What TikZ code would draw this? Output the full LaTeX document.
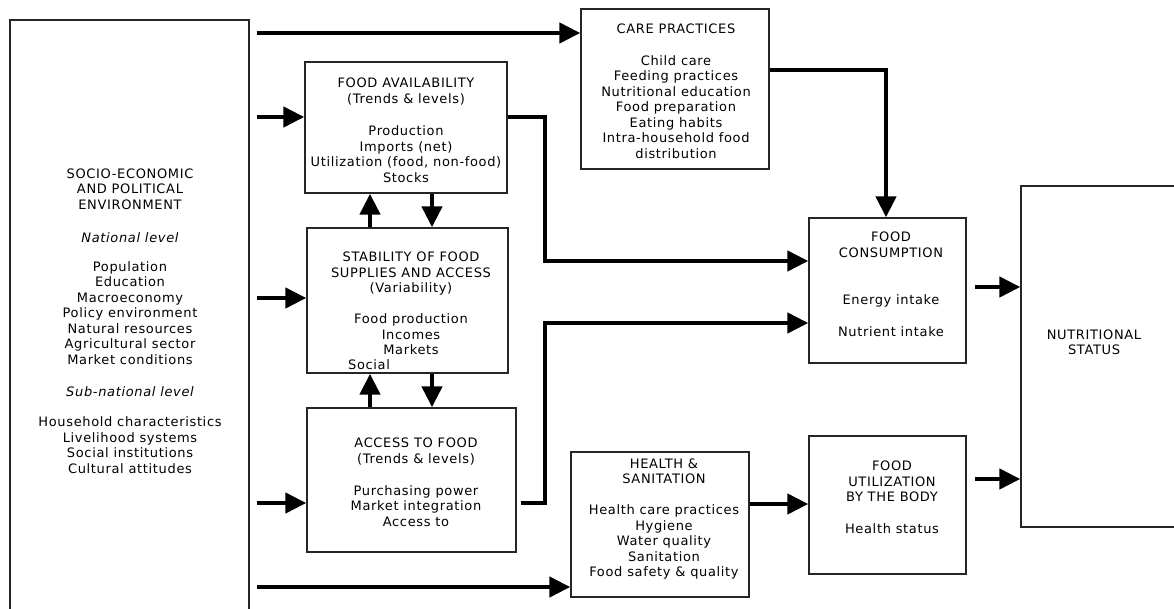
\documentclass[tikz,border=0pt]{standalone}
\usepackage{fontspec}
\setmainfont{DejaVu Sans}[LetterSpace=5]
\usetikzlibrary{arrows.meta,fit}
\tikzset{
  box/.style={draw=black!85, line width=1.4pt, inner sep=0pt, fill=none},
  txt/.style={anchor=north, align=center, inner sep=0pt, font=\fontsize{13}{15.5}\selectfont},
  arr/.style={line width=4.5pt, -{Triangle[length=21pt,width=20pt]}},
}
\begin{document}
\begin{tikzpicture}[x=1pt,y=-1pt]
\useasboundingbox (0,0) rectangle (1174,609);
\clip (0,0) rectangle (1174,609);
\fill[white] (0,0) rectangle (1174,609);
% boxes
\coordinate (envA) at (10,20);   \coordinate (envB) at (249,700);
\coordinate (faA) at (305,62);   \coordinate (faB) at (507,193);
\coordinate (stA) at (307,228);  \coordinate (stB) at (508,373);
\coordinate (acA) at (307,408);  \coordinate (acB) at (516,552);
\coordinate (caA) at (581,9);    \coordinate (caB) at (769,169);
\coordinate (heA) at (571,452);  \coordinate (heB) at (749,597);
\coordinate (fcA) at (809,218);  \coordinate (fcB) at (966,363);
\coordinate (fuA) at (809,436);  \coordinate (fuB) at (966,574);
\coordinate (nuA) at (1021,186); \coordinate (nuB) at (1260,527);
\node[box, fit=(envA)(envB)] (env) {};
\node[box, fit=(faA)(faB)] (fa) {};
\node[box, fit=(stA)(stB)] (stab) {};
\node[box, fit=(acA)(acB)] (acc) {};
\node[box, fit=(caA)(caB)] (care) {};
\node[box, fit=(heA)(heB)] (health) {};
\node[box, fit=(fcA)(fcB)] (fc) {};
\node[box, fit=(fuA)(fuB)] (fu) {};
\node[box, fit=(nuA)(nuB)] (nut) {};
% texts
\node[txt] (envt) at (130,168.5) {SOCIO-ECONOMIC\\AND POLITICAL\\ENVIRONMENT\\[17.5pt]
  {\itshape National level}\\[13.5pt]
  Population\\Education\\Macroeconomy\\Policy environment\\Natural resources\\Agricultural sector\\Market conditions\\[17pt]
  {\itshape Sub-national level}\\[14.5pt]
  Household characteristics\\Livelihood systems\\Social institutions\\Cultural attitudes};
\node[txt] (fat) at (406,78) {FOOD AVAILABILITY\\(Trends \& levels)\\[17pt]
  Production\\Imports (net)\\Utilization (food, non-food)\\Stocks};
\node[txt] (stabt) at (411,252) {STABILITY OF FOOD\\SUPPLIES AND ACCESS\\(Variability)\\[15.5pt]
  Food production\\Incomes\\Markets};
\node[font=\fontsize{13}{15.5}\selectfont, inner sep=0pt] (stabsoc) at (369,365) {Social};
\node[txt] (acct) at (416,438) {ACCESS TO FOOD\\(Trends \& levels)\\[16.5pt]
  Purchasing power\\Market integration\\Access to};
\node[txt] (caret) at (676,23.5) {CARE PRACTICES\\[16.5pt]
  Child care\\Feeding practices\\Nutritional education\\Food preparation\\Eating habits\\Intra-household food\\distribution};
\node[txt] (healtht) at (664,458.5) {HEALTH \&\\SANITATION\\[15.5pt]
  Health care practices\\Hygiene\\Water quality\\Sanitation\\Food safety \& quality};
\node[txt] (fct) at (891,232) {FOOD\\CONSUMPTION\\[31.5pt]
  Energy intake\\[16.5pt]Nutrient intake};
\node[txt] (fut) at (892,461) {FOOD\\UTILIZATION\\BY THE BODY\\[16.5pt]Health status};
\node[txt] (nutt) at (1094,329.5) {NUTRITIONAL\\STATUS};
% level coordinates
\coordinate (yCare) at (0,33);
\coordinate (yFA) at (0,117);
\coordinate (yStab) at (0,298);
\coordinate (yAcc) at (0,503);
\coordinate (yHealth) at (0,587);
\coordinate (yCareOut) at (0,70);
\coordinate (yFC1) at (0,261);
\coordinate (yFC2) at (0,323);
\coordinate (yHU) at (0,504);
\coordinate (yN1) at (0,287);
\coordinate (yN2) at (0,479);
\coordinate (xbus) at (545,0);
\coordinate (xdown) at (886,0);
\coordinate (xup) at (370,0);
\coordinate (xdn) at (432,0);
% connectors
\draw[arr, shorten <=7pt] (env.east |- yCare) -- (care.west |- yCare);
\draw[arr, shorten <=7pt] (env.east |- yFA) -- (fa.west |- yFA);
\draw[arr, shorten <=7pt] (env.east |- yStab) -- (stab.west |- yStab);
\draw[arr, shorten <=7pt] (env.east |- yAcc) -- (acc.west |- yAcc);
\draw[arr, shorten <=7pt] (env.east |- yHealth) -- (health.west |- yHealth);
\draw[arr] (stab.north -| xup) -- (fa.south -| xup);
\draw[arr] (fa.south -| xdn) -- (stab.north -| xdn);
\draw[arr] (acc.north -| xup) -- (stab.south -| xup);
\draw[arr] (stab.south -| xdn) -- (acc.north -| xdn);
\draw[arr] (fa.east |- yFA) -| (xbus |- yFC1) -- (fc.west |- yFC1);
\draw[arr, shorten <=4pt] (acc.east |- yAcc) -| (xbus |- yFC2) -- (fc.west |- yFC2);
\draw[arr] (care.east |- yCareOut) -| (fc.north -| xdown);
\draw[arr] (health.east |- yHU) -- (fu.west |- yHU);
\draw[arr, shorten <=8pt] (fc.east |- yN1) -- (nut.west |- yN1);
\draw[arr, shorten <=8pt] (fu.east |- yN2) -- (nut.west |- yN2);
\end{tikzpicture}
\end{document}
